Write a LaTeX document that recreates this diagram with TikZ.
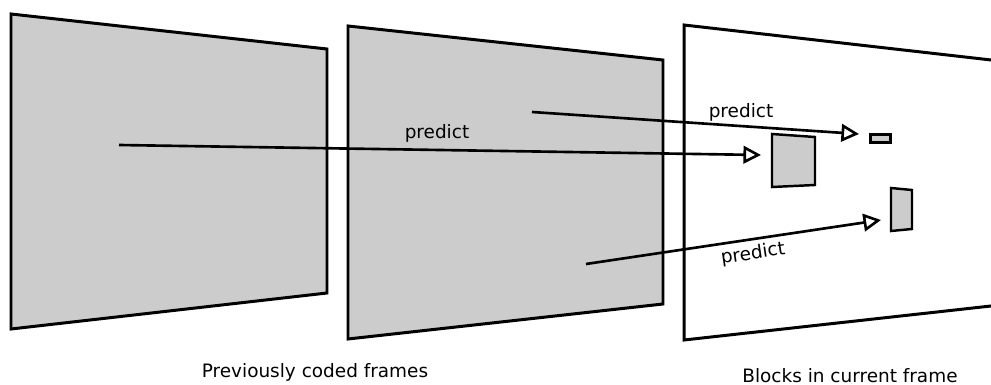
\documentclass[tikz,border=0pt]{standalone}
\usepackage{fontspec}
\setmainfont{DejaVu Sans}
\usetikzlibrary{arrows.meta}
\definecolor{framegray}{RGB}{204, 204, 204}
\tikzset{%
    codedframe/.style={draw=black, fill=framegray, line width=1.7pt},
    curframe/.style={draw=black, fill=white, line width=1.7pt},
    block/.style={draw=black, fill=framegray, line width=1.4pt},
    predarrow/.style={%
        line width=1.5pt,
        -{Triangle[open, fill=white, length=10pt, width=10pt]}
    },
    lbl/.style={font=\fontsize{10.5}{12}\selectfont, inner sep=0pt}
}

\begin{document}
\begin{tikzpicture}[x=0.02cm, y=-0.02cm]

    \useasboundingbox (0, 0) rectangle (991, 385);
    \clip (0, 0) rectangle (991, 385);

    % Previously coded frames
    \draw[codedframe] (11, 14) -- (327, 49) -- (327, 293) -- (11, 329) -- cycle;
    \draw[codedframe] (348, 26) -- (663, 60) -- (663, 304) -- (348, 339) -- cycle;

    % Current frame
    \draw[curframe] (684, 25) -- (1000, 61) -- (1000, 305) -- (684, 340) -- cycle;

    % Blocks
    \draw[block] (772, 134) -- (815, 137) -- (815, 185) -- (772, 187) -- cycle;
    \draw[block] (870.5, 134.5) -- (890.5, 134.5) -- (890.5, 142.5) -- (870.5, 142.5) -- cycle;
    \draw[block] (891, 188) -- (912, 190) -- (912, 229) -- (891, 231) -- cycle;

    \coordinate (src-a) at (119, 145);
    \coordinate (src-b) at (532, 112);
    \coordinate (src-c) at (586, 264);
    \coordinate (dst-a) at (761, 155);
    \coordinate (dst-b) at (859, 134);
    \coordinate (dst-c) at (881, 220);

    % Predictions
    \draw[predarrow] (src-a) -- (dst-a);
    \draw[predarrow] (src-b) -- (dst-b);
    \draw[predarrow] (src-c) -- (dst-c);

    \node[lbl] (pred-a) at (437, 133) {predict};
    \node[lbl] (pred-b) at (741, 112) {predict};
    \node[lbl, rotate=8.5] (pred-c) at (753, 254) {predict};

    % Captions
    \node[lbl] (prev-cap) at (315, 372) {Previously coded frames};
    \node[lbl] (cur-cap) at (850, 376) {Blocks in current frame};

\end{tikzpicture}
\end{document}
